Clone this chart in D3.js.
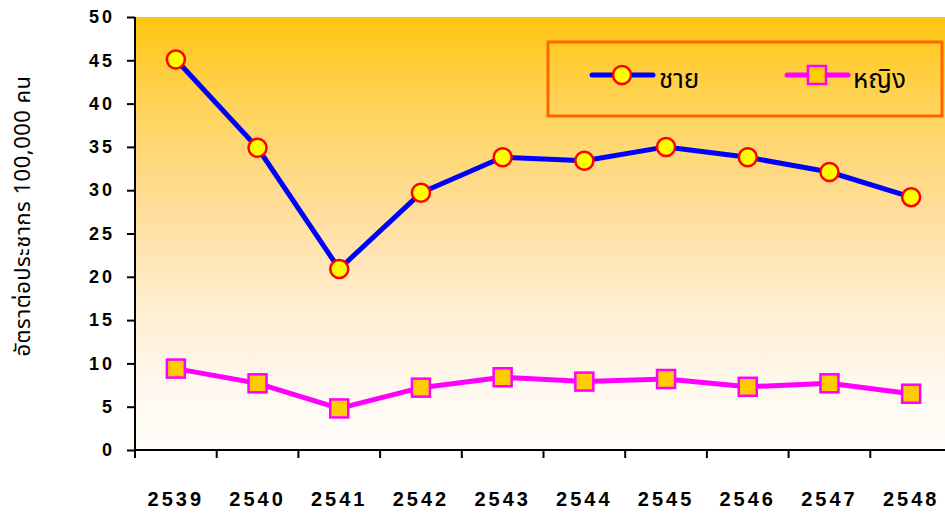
<!DOCTYPE html>
<html><head><meta charset="utf-8">
<script src="https://cdn.jsdelivr.net/npm/d3@7/dist/d3.min.js"></script>
<style>body{margin:0;background:#fff;} svg{display:block;}</style>
</head><body>
<script>
const years = ["2539","2540","2541","2542","2543","2544","2545","2546","2547","2548"];
const male = [45.1, 34.9, 20.9, 29.7, 33.8, 33.4, 35.0, 33.8, 32.1, 29.2];
const female = [9.4, 7.7, 4.8, 7.2, 8.4, 7.9, 8.2, 7.3, 7.7, 6.5];
const yTicks = [0,5,10,15,20,25,30,35,40,45,50];
const seriesNames = ["ชาย","หญิง"];
const yTitle = "อัตราต่อประชากร 100,000 คน";

const W=945,H=516;
const L=135,R=952,T=17,B=450;
const svg=d3.select("body").append("svg").attr("width",W).attr("height",H);
const defs=svg.append("defs");
const g=defs.append("linearGradient").attr("id","bg").attr("x1",0).attr("y1",0).attr("x2",0).attr("y2",1);
[[0,"#FFC60F"],[0.2,"#FFD358"],[0.46,"#FFDE9E"],[0.65,"#FFEDCC"],[0.85,"#FFF8EE"],[1,"#FFFDFA"]]
 .forEach(s=>g.append("stop").attr("offset",s[0]).attr("stop-color",s[1]));

const x=d3.scaleBand().domain(years).range([L,R]);
const y=d3.scaleLinear().domain([0,50]).range([B,T]);

svg.append("rect").attr("x",L).attr("y",T).attr("width",W-L).attr("height",B-T).attr("fill","url(#bg)");

const font="'Liberation Sans', Arial, sans-serif";
// y axis
const ya=svg.append("g").attr("transform",`translate(${L},0)`)
 .call(d3.axisLeft(y).tickValues(yTicks).tickSize(8).tickPadding(12));
ya.select(".domain").attr("stroke","#000").attr("stroke-width",2).attr("d",`M0,${T}V${B}`);
ya.selectAll(".tick line").attr("stroke","#000").attr("stroke-width",2);
ya.selectAll(".tick text").attr("font-family",font).attr("font-weight","bold").attr("font-size",18)
  .attr("letter-spacing","3px").attr("fill","#000");

// x axis
const xa=svg.append("g").attr("transform",`translate(0,${B})`)
 .call(d3.axisBottom(x).tickSize(0).tickPadding(42));
xa.select(".domain").attr("stroke","#000").attr("stroke-width",2).attr("d",`M${L},0H${W}`);
xa.selectAll(".tick text").attr("font-family",font).attr("font-weight","bold").attr("font-size",20)
  .attr("letter-spacing","3px").attr("fill","#000");
const bounds=years.map(d=>x(d)).concat([x(years[years.length-1])+x.bandwidth()]);
xa.selectAll("line.tk").data(bounds).enter().append("line").attr("class","tk")
  .attr("x1",d=>d).attr("x2",d=>d).attr("y1",0).attr("y2",8).attr("stroke","#000").attr("stroke-width",2);

const cx=d=>x(d)+x.bandwidth()/2;
const line=d3.line().x((d,i)=>cx(years[i])).y(d=>y(d));

svg.append("path").datum(female).attr("d",line).attr("fill","none").attr("stroke","#FF00FF").attr("stroke-width",5).attr("stroke-linejoin","round");
svg.append("path").datum(male).attr("d",line).attr("fill","none").attr("stroke","#0000FF").attr("stroke-width",5).attr("stroke-linejoin","round");

svg.selectAll("rect.f").data(female).enter().append("rect").attr("class","f")
 .attr("x",(d,i)=>cx(years[i])-9).attr("y",d=>y(d)-9).attr("width",18).attr("height",18)
 .attr("fill","#FFCC00").attr("stroke","#FF00FF").attr("stroke-width",2.5);
svg.selectAll("circle.m").data(male).enter().append("circle").attr("class","m")
 .attr("cx",(d,i)=>cx(years[i])).attr("cy",d=>y(d)).attr("r",9)
 .attr("fill","#FFFF00").attr("stroke","#FF0000").attr("stroke-width",2.5);

// legend
const lg=svg.append("g");
lg.append("rect").attr("x",548).attr("y",42).attr("width",394).attr("height",74)
  .attr("fill","none").attr("stroke","#FF6600").attr("stroke-width",3);
const thai="Tahoma, 'Noto Sans Thai', 'Noto Sans', 'DejaVu Sans', sans-serif";
lg.append("line").attr("x1",592).attr("x2",653).attr("y1",75).attr("y2",75).attr("stroke","#0000FF").attr("stroke-width",5).attr("stroke-linecap","round");
lg.append("circle").attr("cx",622).attr("cy",75).attr("r",9).attr("fill","#FFFF00").attr("stroke","#FF0000").attr("stroke-width",2.5);
lg.append("text").attr("x",659).attr("y",88).text(seriesNames[0]).attr("font-family",thai).attr("font-size",26).attr("fill","#000");
lg.append("line").attr("x1",787).attr("x2",848).attr("y1",75).attr("y2",75).attr("stroke","#FF00FF").attr("stroke-width",5).attr("stroke-linecap","round");
lg.append("rect").attr("x",808).attr("y",66).attr("width",18).attr("height",18).attr("fill","#FFCC00").attr("stroke","#FF00FF").attr("stroke-width",2.5);
lg.append("text").attr("x",853).attr("y",88).text(seriesNames[1]).attr("font-family",thai).attr("font-size",26).attr("fill","#000");

// y title
svg.append("text").attr("transform","translate(30,216) rotate(-90)").attr("text-anchor","middle")
  .text(yTitle).attr("font-family",thai).attr("font-size",22).attr("letter-spacing","0.5px").attr("fill","#000");
</script>
</body></html>
